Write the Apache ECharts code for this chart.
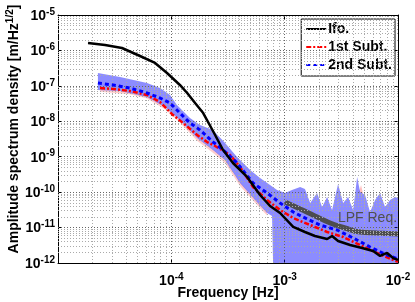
<!DOCTYPE html>
<html><head><meta charset="utf-8">
<script src="https://cdn.jsdelivr.net/npm/echarts@6/dist/echarts.min.js"></script>
<style>html,body{margin:0;padding:0;background:#fff}#c{width:415px;height:302px}</style>
</head><body><div id="c"></div>
<script>
// ---- data (frequency [Hz], amplitude spectral density [m/Hz^1/2]) ----
const ifo = [[1.84e-5,1.62e-6],[2.6e-5,1.42e-6],[3.67e-5,1.17e-6],[5.29e-5,6.96e-7],[7.18e-5,4.42e-7],[9.16e-5,2.31e-7],[1.19e-4,1.06e-7],[1.38e-4,6.29e-8],[1.62e-4,3.28e-8],[1.91e-4,1.71e-8],[2.33e-4,5.32e-9],[2.86e-4,1.55e-9],[3.5e-4,6.65e-10],[4.66e-4,2.68e-10],[6.07e-4,8.3e-11],[7.43e-4,4.07e-11],[9.11e-4,2.58e-11],[1.19e-3,1.04e-11],[1.51e-3,7.5e-12],[1.85e-3,5.78e-12],[2.37e-3,4.76e-12],[2.62e-3,5.78e-12],[2.96e-3,4.18e-12],[3.78e-3,3.22e-12],[4.82e-3,2.65e-12],[6.03e-3,2.18e-12],[6.95e-3,1.58e-12],[8.01e-3,1.92e-12],[9.05e-3,1.38e-12],[1e-2,1.22e-12]];
const sub1 = [[2.35e-5,8.7e-8],[3.06e-5,8.15e-8],[4.32e-5,7.16e-8],[6.1e-5,5.52e-8],[7.95e-5,3.5e-8],[1.035e-4,1.5e-8],[1.27e-4,8.95e-9],[1.69e-4,4.1e-9],[2.07e-4,2.6e-9],[2.43e-4,2.01e-9],[3.3e-4,1.12e-9],[4.04e-4,5.13e-10],[5.26e-4,1.4e-10],[6.99e-4,6.0e-11],[9.11e-4,3.13e-11],[1.19e-3,1.86e-11],[1.68e-3,1.18e-11],[2.37e-3,7.5e-12],[3.28e-3,5.42e-12],[4.63e-3,3.22e-12],[6.54e-3,1.92e-12],[9.05e-3,1.22e-12],[1e-2,1.07e-12]];
const sub2 = [[2.25e-5,1.2e-7],[3.06e-5,1.06e-7],[4.32e-5,8.7e-8],[6.1e-5,6.29e-8],[7.95e-5,4.54e-8],[9.74e-5,3.28e-8],[1.12e-4,2.08e-8],[1.46e-4,8.95e-9],[1.79e-4,5.68e-9],[2.33e-4,2.6e-9],[2.86e-4,1.55e-9],[3.8e-4,6.65e-10],[5.26e-4,1.81e-10],[6.99e-4,9.46e-11],[9.11e-4,4.94e-11],[1.19e-3,2.75e-11],[1.45e-3,1.99e-11],[2.05e-3,1.18e-11],[2.9e-3,8.54e-12],[4.02e-3,5.08e-12],[5.67e-3,2.83e-12],[8.01e-3,1.68e-12],[1e-2,1.3e-12]];
const band2Upper = [[2.25e-5,2.31e-7],[3.53e-5,1.78e-7],[6.1e-5,1.2e-7],[7.95e-5,8.7e-8],[9.74e-5,5.52e-8],[1.12e-4,2.88e-8],[1.46e-4,1.24e-8],[1.79e-4,7.86e-9],[2.33e-4,5.68e-9],[2.98e-4,2.44e-9],[3.8e-4,9.8e-10],[4.95e-4,4.22e-10],[6.07e-4,2.51e-10],[7.43e-4,1.59e-10],[8.57e-4,1.15e-10],[1.008e-3,9.46e-11],[1.16e-3,1.15e-10],[1.37e-3,1.4e-10],[1.51e-3,1.23e-10],[1.68e-3,4.94e-11],[1.93e-3,9.46e-11],[2.14e-3,3.81e-11],[2.37e-3,7.3e-11],[2.62e-3,3.13e-11],[2.96e-3,1.7e-10],[3.28e-3,4.94e-11],[3.63e-3,7.3e-11],[4.02e-3,3.13e-11],[4.36e-3,2.68e-10],[4.63e-3,1.01e-10],[5.12e-3,8.3e-11],[5.67e-3,2.75e-11],[6.28e-3,6.0e-11],[6.95e-3,9.46e-11],[7.69e-3,3.81e-11],[8.51e-3,6.0e-11],[9.43e-3,7.3e-11],[1e-2,6.84e-11]];
const band2Lower = [[2.25e-5,7.64e-8],[3.53e-5,7.16e-8],[6.1e-5,4.85e-8],[8.8e-5,2.53e-8],[1.19e-4,1.09e-8],[1.69e-4,3.38e-9],[2.33e-4,1.55e-9],[2.98e-4,8.08e-10],[4.04e-4,1.81e-10],[5.48e-4,6.0e-11],[6.99e-4,2.58e-11],[7.74e-4,2.12e-11],[7.9e-4,1e-12],[1e-2,1e-12]];
// 1st-subtraction uncertainty: only its edges peek out from under the blue band
const band1Upper = [[2.35e-5,8.0e-8],[4.3e-5,6.6e-8],[6.1e-5,5.0e-8],[8.8e-5,2.6e-8],[1.19e-4,1.12e-8],[1.69e-4,3.5e-9],[2.33e-4,1.6e-9],[2.98e-4,8.3e-10],[4.04e-4,1.9e-10],[5.48e-4,6.2e-11],[6.99e-4,2.7e-11]];
const band1Lower = [[2.35e-5,6.8e-8],[4.3e-5,5.8e-8],[6.1e-5,4.4e-8],[8.8e-5,2.2e-8],[1.19e-4,9.2e-9],[1.69e-4,2.8e-9],[2.33e-4,1.3e-9],[2.98e-4,6.7e-10],[4.04e-4,1.5e-10],[5.48e-4,5.0e-11],[6.99e-4,2.2e-11]];
const band1SpikeUpper = [[4.55e-3,1.05e-10],[4.72e-3,1.6e-10],[4.9e-3,9.5e-11]];
const band1SpikeLower = [[4.55e-3,1.0e-10],[4.72e-3,9.5e-11],[4.9e-3,9.0e-11]];
const lpfReq = [[1.008e-3,5.27e-11],[1.37e-3,3.34e-11],[1.85e-3,2.12e-11],[2.52e-3,1.35e-11],[3.41e-3,9.73e-12],[4.63e-3,7.5e-12],[6.54e-3,7.03e-12],[1e-2,6.6e-12]];
const lpfLabelAt = [2.95e-3, 1.86e-11];
const xRange = [1e-5, 1e-2];
const yRange = [1e-12, 1e-5];
const seriesNames = ['Ifo.', '1st Subt.', '2nd Subt.'];

// grid positions (k * 10^n)
function minorGrid(lo, hi) {
  const out = [];
  for (let n = lo; n < hi; n++) for (let k = 2; k <= 9; k++) out.push(k * Math.pow(10, n));
  return out;
}
const xMinor = minorGrid(-5, -2);
const yMinor = minorGrid(-12, -5);
const xMajor = [1e-4, 1e-3];
const yMajor = [1e-11, 1e-10, 1e-9, 1e-8, 1e-7, 1e-6];

function vLines(vals) { return vals.map(v => [{coord: [v, yRange[0]]}, {coord: [v, yRange[1]]}]); }
function hLines(vals) { return vals.map(v => [{coord: [xRange[0], v]}, {coord: [xRange[1], v]}]); }

const FONT = 'Liberation Sans, Arial, Helvetica, sans-serif';
const rich = {
  b: {fontSize: 14, fontWeight: 'bold', fontFamily: FONT, color: '#000', verticalAlign: 'bottom', lineHeight: 16},
  s: {fontSize: 10, fontWeight: 'bold', fontFamily: FONT, color: '#000', verticalAlign: 'top', lineHeight: 12, padding: [0, 0, 8, 0]}
};
function expLabel(v) {
  const e = Math.round(Math.log10(v));
  return '{b|10}{s|' + e + '}';
}

function band(name, upper, lower, color, z) {
  return {
    type: 'custom', name: name, z: z, silent: true, clip: true,
    data: [upper[0]], encode: {x: 0, y: 1},
    renderItem: function (params, api) {
      const pts = upper.map(p => api.coord(p)).concat(lower.slice().reverse().map(p => api.coord(p)));
      return {type: 'polygon', shape: {points: pts}, style: {fill: color}};
    }
  };
}
function gridSeries(name, lines, color) {
  return {
    type: 'line', name: name, data: [[1e-3, 1e-9]], symbol: 'none', z: 1, silent: true,
    lineStyle: {width: 0},
    markLine: {
      silent: true, symbol: ['none', 'none'], label: {show: false}, animation: false,
      lineStyle: {color: color, type: [1, 2], width: 1, opacity: 1},
      data: lines
    }
  };
}

const axisCommon = {
  type: 'log', logBase: 10,
  axisLine: {show: true, onZero: false, lineStyle: {color: '#000', width: 1}},
  axisTick: {show: true, inside: true, length: 4, lineStyle: {color: '#000'}},
  splitLine: {show: false}
};

const chart = echarts.init(document.getElementById('c'), null, {renderer: 'canvas'});
chart.setOption({
  animation: false,
  backgroundColor: '#fff',
  grid: {left: 58, right: 17, top: 15, bottom: 39, show: false, containLabel: false, outerBoundsMode: 'none'},
  xAxis: [
    Object.assign({}, axisCommon, {
      min: xRange[0], max: xRange[1], splitNumber: 3, position: 'bottom',
      axisLabel: {margin: 9, formatter: v => (Math.round(Math.log10(v)) === -5 ? '' : expLabel(v)), rich: rich},
      name: 'Frequency [Hz]', nameLocation: 'middle', nameGap: 23, nameMoveOverlap: false,
      nameTextStyle: {fontSize: 14, fontWeight: 'bold', fontFamily: FONT, color: '#000', verticalAlign: 'top'}
    }),
    Object.assign({}, axisCommon, {min: xRange[0], max: xRange[1], splitNumber: 3, position: 'top', axisLabel: {show: false}})
  ],
  yAxis: [
    Object.assign({}, axisCommon, {
      min: yRange[0], max: yRange[1], splitNumber: 7, position: 'left',
      axisLabel: {margin: 3, formatter: expLabel, rich: rich}
    }),
    Object.assign({}, axisCommon, {min: yRange[0], max: yRange[1], splitNumber: 7, position: 'right', axisLabel: {show: false}})
  ],
  graphic: [{
    type: 'text', x: 13, y: 129, rotation: Math.PI / 2,
    style: {
      text: '{a|Amplitude spectrum density [m/Hz}{s|1/2}{a|]}',
      align: 'center', verticalAlign: 'middle',
      rich: {
        a: {fontSize: 14, fontWeight: 'bold', fontFamily: FONT, fill: '#000', color: '#000', verticalAlign: 'bottom', lineHeight: 16},
        s: {fontSize: 10, fontWeight: 'bold', fontFamily: FONT, fill: '#000', color: '#000', verticalAlign: 'top', lineHeight: 12, padding: [0, 0, 8, 0]}
      }
    }
  }],
  legend: {
    data: seriesNames, orient: 'vertical', right: 20, top: 19,
    backgroundColor: '#fff', borderColor: '#000', borderWidth: 1, borderRadius: 0,
    padding: [3, 3, 4, 4], itemGap: 4, itemWidth: 20, itemHeight: 13,
    itemStyle: {opacity: 0},
    textStyle: {fontSize: 14, fontWeight: 'bold', fontFamily: FONT, color: '#000', padding: [0, 0, 0, -3]}
  },
  series: [
    gridSeries('gridMinor', vLines(xMinor).concat(hLines(yMinor)), '#aaa'),
    gridSeries('gridMajor', vLines(xMajor).concat(hLines(yMajor)), '#666'),
    band('band1', band1Upper, band1Lower, 'rgba(255,110,110,0.35)', 2),
    band('band1s', band1SpikeUpper, band1SpikeLower, 'rgba(255,110,110,0.45)', 2),
    band('band2', band2Upper, band2Lower, 'rgba(0,0,255,0.45)', 3),
    {
      type: 'line', name: 'LPF Req.', data: lpfReq, symbol: 'none', smooth: true, z: 4,
      lineStyle: {color: '#4d4d4d', width: 5},
      markPoint: {
        symbol: 'circle', symbolSize: 0, silent: true, z: 10,
        data: [{coord: lpfLabelAt, value: 'LPF Req.'}],
        label: {show: true, position: 'right', distance: 0, formatter: 'LPF Req.', fontSize: 14, fontFamily: FONT, color: '#505050'}
      }
    },
    {type: 'line', name: '1st Subt.', data: sub1, symbol: 'none', z: 5, lineStyle: {color: '#ff0000', width: 2.5, type: [5, 2, 2, 2]}, itemStyle: {color: '#ff0000'}},
    {type: 'line', name: '2nd Subt.', data: sub2, symbol: 'none', z: 6, lineStyle: {color: '#0000ff', width: 3, type: [4, 3]}, itemStyle: {color: '#0000ff'}},
    {type: 'line', name: 'Ifo.', data: ifo, symbol: 'none', z: 7, lineStyle: {color: '#000', width: 2.5}, itemStyle: {color: '#000'}}
  ]
});
</script>
</body></html>
